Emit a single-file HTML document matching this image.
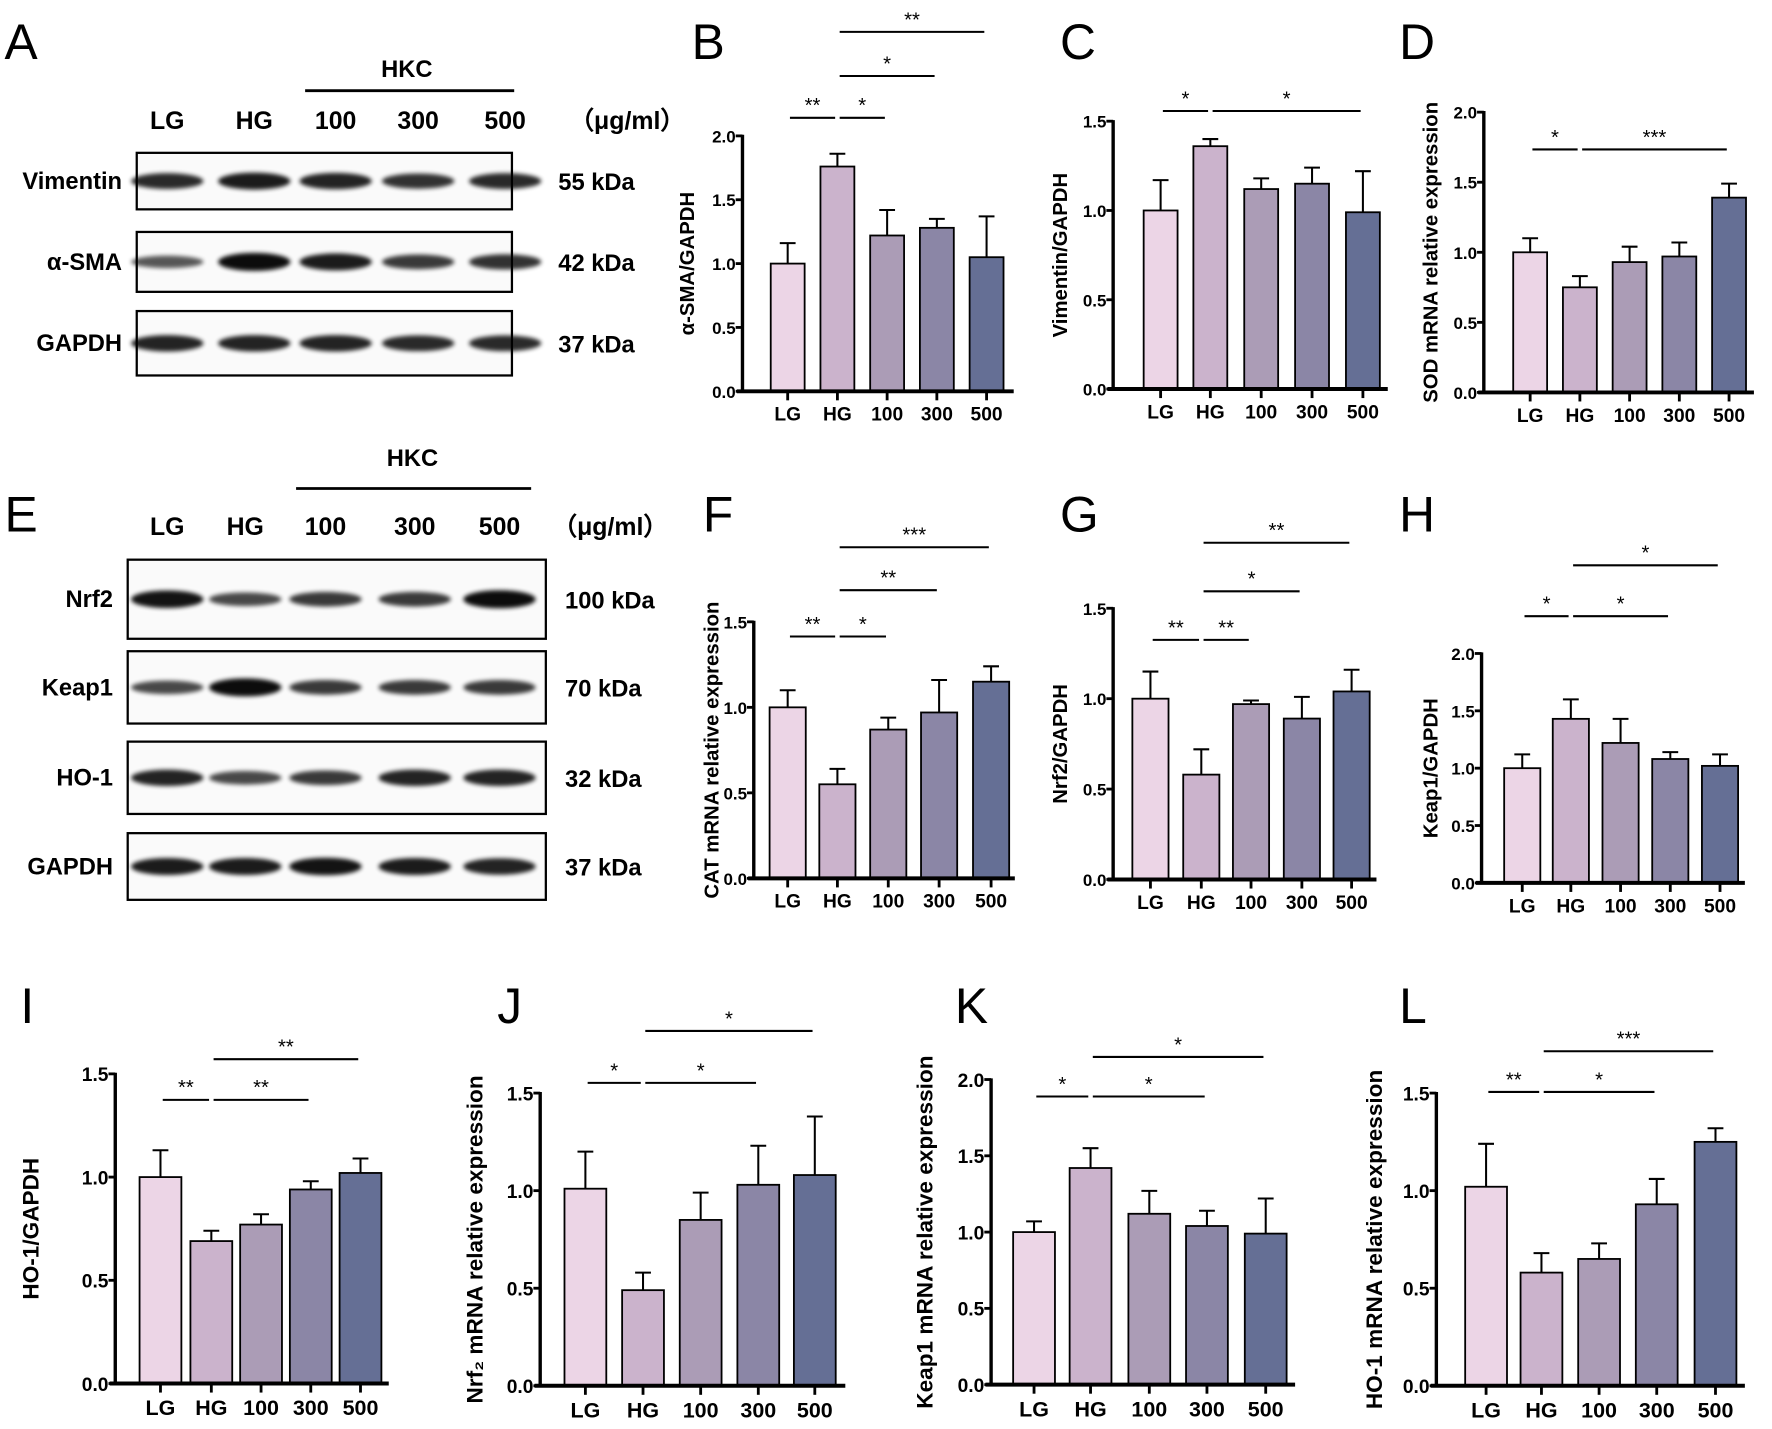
<!DOCTYPE html>
<html><head><meta charset="utf-8"><style>
html,body{margin:0;padding:0;background:#fff;}
svg{display:block;}
text{font-family:"Liberation Sans",Arial,sans-serif;}
</style></head>
<body>
<svg id="fig" width="1772" height="1429" viewBox="0 0 1568 1264" xmlns="http://www.w3.org/2000/svg">
<defs><filter id="blur" x="-20%" y="-100%" width="140%" height="300%"><feGaussianBlur stdDeviation="2"/></filter></defs>
<g id="root"></g>
</svg>
<script>
const categories = ["LG","HG","100","300","500"];
const colors = ["#ecd5e6","#cbb3cc","#ab9cb6","#8b86a6","#656f95"];
const bMeans = [1.0,1.76,1.22,1.28,1.05];
const bErr   = [1.16,1.86,1.42,1.35,1.37];
const cMeans = [1.0,1.36,1.12,1.15,0.99];
const cErr   = [1.17,1.40,1.18,1.24,1.22];
const dMeans = [1.0,0.75,0.93,0.97,1.39];
const dErr   = [1.10,0.83,1.04,1.07,1.49];
const fMeans = [1.0,0.55,0.87,0.97,1.15];
const fErr   = [1.10,0.64,0.94,1.16,1.24];
const gMeans = [1.0,0.58,0.97,0.89,1.04];
const gErr   = [1.15,0.72,0.99,1.01,1.16];
const hMeans = [1.0,1.43,1.22,1.08,1.02];
const hErr   = [1.12,1.60,1.43,1.14,1.12];
const iMeans = [1.0,0.69,0.77,0.94,1.02];
const iErr   = [1.13,0.74,0.82,0.98,1.09];
const jMeans = [1.01,0.49,0.85,1.03,1.08];
const jErr   = [1.20,0.58,0.99,1.23,1.38];
const kMeans = [1.0,1.42,1.12,1.04,0.99];
const kErr   = [1.07,1.55,1.27,1.14,1.22];
const lMeans = [1.02,0.58,0.65,0.93,1.25];
const lErr   = [1.24,0.68,0.73,1.06,1.32];
const ticks15 = ["0.0","0.5","1.0","1.5"];
const ticks20 = ["0.0","0.5","1.0","1.5","2.0"];

const NS="http://www.w3.org/2000/svg";
const root=document.getElementById('root');
function el(tag,attrs,parent,txt){const e=document.createElementNS(NS,tag);for(const k in attrs)e.setAttribute(k,attrs[k]);if(txt!==undefined)e.textContent=txt;(parent||root).appendChild(e);return e;}

const panels=[
 {id:'b',L:'B',lx:612,ly:52,ax:657,y0:346,yTop:120,ticks:ticks20,xs:[697,741,785,829,873],bw:30,xend:897,means:bMeans,err:bErr,yl:"α-SMA/GAPDH",ylx:614,fs:16,sig:[[0,1,104,"**"],[1,2,104,"*"],[1,3,67,"*"],[1,4,28,"**"]]},
 {id:'c',L:'C',lx:938,ly:52,ax:985,y0:344,yTop:107,ticks:ticks15,xs:[1027,1071,1116,1161,1206],bw:30,xend:1228,means:cMeans,err:cErr,yl:"Vimentin/GAPDH",ylx:944,fs:16,sig:[[0,1,98,"*"],[1,4,98,"*"]]},
 {id:'d',L:'D',lx:1238,ly:52,ax:1313,y0:347,yTop:99,ticks:ticks20,xs:[1354,1398,1442,1486,1530],bw:30,xend:1552,means:dMeans,err:dErr,yl:"SOD mRNA relative expression",ylx:1272,fs:16,sig:[[0,1,132,"*"],[1,4,132,"***"]]},
 {id:'f',L:'F',lx:622,ly:470,ax:667,y0:777,yTop:550,ticks:ticks15,xs:[697,741,786,831,877],bw:32,xend:898,means:fMeans,err:fErr,yl:"CAT mRNA relative expression",ylx:636,fs:16,sig:[[0,1,563,"**"],[1,2,563,"*"],[1,3,522,"**"],[1,4,484,"***"]]},
 {id:'g',L:'G',lx:938,ly:470,ax:985,y0:778,yTop:538,ticks:ticks15,xs:[1018,1063,1107,1152,1196],bw:32,xend:1218,means:gMeans,err:gErr,yl:"Nrf2/GAPDH",ylx:944,fs:16,sig:[[0,1,566,"**"],[1,2,566,"**"],[1,3,523,"*"],[1,4,480,"**"]]},
 {id:'h',L:'H',lx:1238,ly:470,ax:1311,y0:781,yTop:578,ticks:ticks20,xs:[1347,1390,1434,1478,1522],bw:32,xend:1544,means:hMeans,err:hErr,yl:"Keap1/GAPDH",ylx:1272,fs:16,sig:[[0,1,545,"*"],[1,3,545,"*"],[1,4,500,"*"]]},
 {id:'i',L:'I',lx:18,ly:905,ax:102,y0:1224,yTop:950,ticks:ticks15,xs:[142,187,231,275,319],bw:37,xend:344,means:iMeans,err:iErr,yl:"HO-1/GAPDH",ylx:34,fs:18,sig:[[0,1,973,"**"],[1,3,973,"**"],[1,4,937,"**"]]},
 {id:'j',L:'J',lx:440,ly:905,ax:478,y0:1226,yTop:967,ticks:ticks15,xs:[518,569,620,671,721],bw:37,xend:748,means:jMeans,err:jErr,yl:"Nrf₂ mRNA relative expression",ylx:427,fs:18,sig:[[0,1,958,"*"],[1,3,958,"*"],[1,4,912,"*"]]},
 {id:'k',L:'K',lx:845,ly:905,ax:877,y0:1225,yTop:955,ticks:ticks20,xs:[915,965,1017,1068,1120],bw:37,xend:1146,means:kMeans,err:kErr,yl:"Keap1 mRNA relative expression",ylx:825,fs:18,sig:[[0,1,970,"*"],[1,3,970,"*"],[1,4,935,"*"]]},
 {id:'l',L:'L',lx:1238,ly:905,ax:1271,y0:1226,yTop:967,ticks:ticks15,xs:[1315,1364,1415,1466,1518],bw:37,xend:1544,means:lMeans,err:lErr,yl:"HO-1 mRNA relative expression",ylx:1223,fs:18,sig:[[0,1,966,"**"],[1,3,966,"*"],[1,4,930,"***"]]}
];

panels.forEach(p=>{
 const g=el('g',{});
 
 
 const maxV=parseFloat(p.ticks[p.ticks.length-1]);
 const Y=v=>p.y0-v/maxV*(p.y0-p.yTop);
 const X=i=>p.xs[i];
 const lt=el('text',{x:p.lx,y:p.ly,'font-size':44},g,p.L);
 
 
 p.means.forEach((m,i)=>{
  const r=el('rect',{x:X(i)-p.bw/2,y:Y(m),width:p.bw,height:p.y0-Y(m),fill:colors[i],stroke:'#000','stroke-width':1.6},g);
  
  
  const e=el('path',{d:`M${X(i)},${Y(m)}V${Y(p.err[i])}M${X(i)-7},${Y(p.err[i])}H${X(i)+7}`,stroke:'#000','stroke-width':1.8,fill:'none'},g);
  
  
 });
 const ya=el('path',{d:`M${p.ax},${Y(maxV)-1}V${p.y0}`,stroke:'#000','stroke-width':3},g);
 
 
 const xa=el('path',{d:`M${p.ax-5},${p.y0}H${p.xend}`,stroke:'#000','stroke-width':3.5},g);
 
 
 p.ticks.forEach(t=>{
  const v=parseFloat(t);
  el('path',{d:`M${p.ax-6},${Y(v)}H${p.ax}`,stroke:'#000','stroke-width':2.5},g);
  const tt=el('text',{x:p.ax-6,y:Y(v)+p.fs*0.36,'font-size':p.fs-1,'font-weight':'bold','text-anchor':'end'},g,t);
  
  
 });
 categories.forEach((c,i)=>{
  el('path',{d:`M${X(i)},${p.y0}V${p.y0+8}`,stroke:'#000','stroke-width':2.5},g);
  const tt=el('text',{x:X(i),y:p.y0+p.fs+10,'font-size':p.fs+1,'font-weight':'bold','text-anchor':'middle'},g,c);
  
  
 });
 const yc=(p.y0+p.yTop)/2;
 const yl=el('text',{x:p.ylx,y:yc,'font-size':p.fs+2,'font-weight':'bold','text-anchor':'middle',transform:`rotate(-90 ${p.ylx} ${yc})`},g,p.yl);
 
 
 p.sig.forEach(s=>{
  const x1=X(s[0])+2,x2=X(s[1])-2;
  const ln=el('path',{d:`M${x1},${s[2]}H${x2}`,stroke:'#000','stroke-width':1.8},g);
  
  
  const st=el('text',{x:(x1+x2)/2,y:s[2]-5,'font-size':18,'text-anchor':'middle'},g,s[3]);
  
  
 });
});

const blotA={letter:'A',lx:4,ly:52,hkcX:360,hkcY:68,hx1:270,hx2:455,hy:80,labY:114,labX:[148,225,297,370,447],unitX:555,
 rows:[["Vimentin",135,185,"55 kDa",[.8,.9,.85,.75,.8]],["α-SMA",205,258,"42 kDa",[.5,1,.9,.7,.75]],["GAPDH",275,332,"37 kDa",[.85,.85,.85,.8,.8]]],bx1:121,bx2:453,kx:494,rx:108};
const blotE={letter:'E',lx:4,ly:470,hkcX:365,hkcY:412,hx1:262,hx2:470,hy:432,labY:473,labX:[148,217,288,367,442],unitX:540,
 rows:[["Nrf2",495,565,"100 kDa",[.95,.6,.7,.7,1]],["Keap1",576,640,"70 kDa",[.6,1,.7,.7,.7]],["HO-1",656,720,"32 kDa",[.85,.6,.7,.85,.85]],["GAPDH",737,796,"37 kDa",[.9,.9,.95,.9,.85]]],bx1:113,bx2:483,kx:500,rx:100};
[blotA,blotE].forEach(b=>{
 const g=el('g',{});
 
 
 const lt=el('text',{x:b.lx,y:b.ly,'font-size':44},g,b.letter);
 
 
 el('text',{x:b.hkcX,y:b.hkcY,'font-size':21,'font-weight':'bold','text-anchor':'middle'},g,'HKC');
 el('path',{d:`M${b.hx1},${b.hy}H${b.hx2}`,stroke:'#000','stroke-width':2.5},g);
 categories.forEach((c,i)=>el('text',{x:b.labX[i],y:b.labY,'font-size':22,'font-weight':'bold','text-anchor':'middle'},g,c));
 el('text',{x:b.unitX,y:b.labY,'font-size':22,'font-weight':'bold','text-anchor':'middle'},g,'（μg/ml）');
 b.rows.forEach(r=>{
  const [name,y1,y2,kd,ints]=r;
  const bx=el('rect',{x:b.bx1,y:y1,width:b.bx2-b.bx1,height:y2-y1,fill:'#fafafa',stroke:'#000','stroke-width':2},g);
  
  
  const cy=(y1+y2)/2;
  ints.forEach((v,i)=>{
   el('ellipse',{cx:b.labX[i],cy:cy,rx:32,ry:3+5*v,fill:'#000',opacity:0.35+0.6*v,filter:'url(#blur)'},g);
  });
  el('text',{x:b.rx,y:cy+7,'font-size':21,'font-weight':'bold','text-anchor':'end'},g,name);
  el('text',{x:b.kx,y:cy+8,'font-size':21,'font-weight':'bold'},g,kd);
 });
});
</script>
</body></html>
